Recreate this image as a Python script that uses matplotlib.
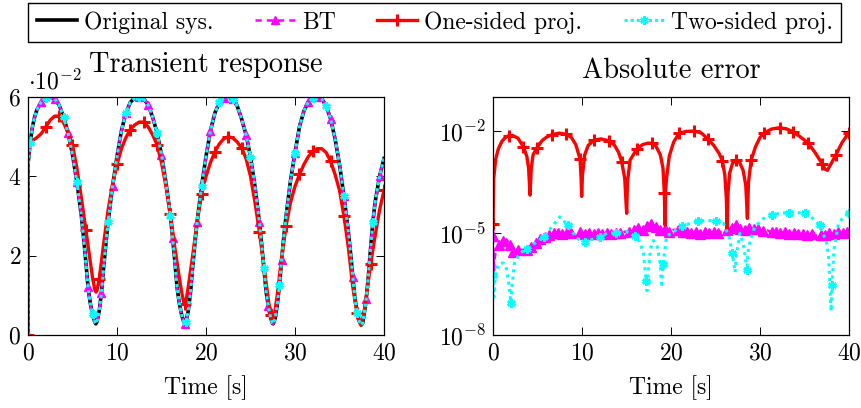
import numpy as np
import matplotlib
matplotlib.use("Agg")
import matplotlib.pyplot as plt
from matplotlib.ticker import NullLocator

plt.rcParams.update({
    "font.family": "serif",
    "font.serif": ["cmr10"],
    "mathtext.fontset": "cm",
    "axes.unicode_minus": False,
    "axes.formatter.use_mathtext": True,
    "font.size": 17,
})

# ---- transient response (values in units of 1e-2) ----
orig_resp = [
    (0.0, 0.0), (0.0, 4.3), (0.25, 4.85), (0.5, 5.25), (0.75, 5.5), (1.0, 5.68),
    (1.5, 5.88), (2.0, 5.97), (2.5, 6.0), (3.0, 5.96), (3.5, 5.8), (4.0, 5.5),
    (4.5, 5.1), (5.0, 4.55), (5.5, 3.85), (6.0, 3.0), (6.25, 2.45), (6.5, 1.85),
    (6.75, 1.2), (7.0, 0.8), (7.25, 0.52), (7.5, 0.33), (7.62, 0.28), (7.75, 0.33),
    (8.0, 0.6), (8.25, 1.05), (8.5, 1.7), (8.75, 2.3), (9.0, 2.85), (9.5, 3.75),
    (10.0, 4.5), (10.5, 5.15), (11.0, 5.6), (11.5, 5.87), (12.0, 5.98), (12.5, 6.0),
    (13.0, 5.96), (13.5, 5.8), (14.0, 5.5), (14.5, 5.1), (15.0, 4.55), (15.5, 3.85),
    (16.0, 3.0), (16.25, 2.45), (16.5, 1.85), (16.75, 1.2), (17.0, 0.8), (17.25, 0.52),
    (17.5, 0.33), (17.62, 0.28), (17.75, 0.33), (18.0, 0.6), (18.25, 1.05), (18.5, 1.7),
    (18.75, 2.3), (19.0, 2.85), (19.5, 3.75), (20.0, 4.5), (20.5, 5.15), (21.0, 5.6),
    (21.5, 5.87), (22.0, 5.98), (22.5, 6.0),
    (23.0, 5.95), (23.5, 5.78), (24.0, 5.45), (24.5, 5.05), (25.0, 4.5), (25.5, 3.75),
    (26.0, 2.85), (26.25, 2.3), (26.5, 1.7), (26.75, 1.1), (27.0, 0.72), (27.25, 0.45),
    (27.45, 0.3), (27.55, 0.28), (27.75, 0.4), (28.0, 0.75), (28.25, 1.25), (28.5, 1.9),
    (28.75, 2.5), (29.0, 3.0), (29.5, 3.9), (30.0, 4.6), (30.5, 5.25), (31.0, 5.65),
    (31.5, 5.88), (32.0, 5.98), (32.5, 6.0),
    (33.0, 5.96), (33.5, 5.78), (34.0, 5.45), (34.5, 4.95), (35.0, 4.3), (35.5, 3.5),
    (36.0, 2.6), (36.25, 2.05), (36.5, 1.45), (36.75, 0.9), (37.0, 0.55), (37.25, 0.33),
    (37.45, 0.25), (37.6, 0.3), (37.75, 0.5), (38.0, 0.9), (38.25, 1.5), (38.5, 2.2),
    (38.75, 2.85), (39.0, 3.35), (39.5, 4.0), (40.0, 4.45),
]
# BT and two-sided responses lie on top of the original at this resolution
bt_resp = orig_resp
two_resp = orig_resp
one_resp = [
    (0.0, 0.0), (0.0, 4.5), (0.25, 4.85), (0.5, 4.9), (1.0, 4.98), (1.5, 5.08),
    (2.0, 5.25), (2.5, 5.42), (3.0, 5.52), (3.5, 5.52), (4.0, 5.35), (4.5, 5.1),
    (5.0, 4.8), (5.5, 4.2), (6.0, 3.45), (6.5, 2.65), (7.0, 1.85), (7.25, 1.45),
    (7.5, 1.15), (7.65, 1.08), (7.75, 1.12), (8.0, 1.4), (8.5, 2.3), (9.0, 3.15),
    (9.5, 3.8), (10.0, 4.3), (10.5, 4.7), (11.0, 4.98), (11.5, 5.18), (12.0, 5.3),
    (12.5, 5.37), (13.0, 5.37), (13.5, 5.25), (14.0, 5.05), (14.5, 4.8), (15.0, 4.35),
    (15.5, 3.75), (16.0, 3.05), (16.5, 2.2), (17.0, 1.45), (17.25, 1.1), (17.5, 0.82),
    (17.6, 0.77), (17.75, 0.85), (18.0, 1.2), (18.5, 2.0), (19.0, 2.85), (19.5, 3.55),
    (20.0, 4.0), (20.5, 4.35), (21.0, 4.62), (21.5, 4.82), (22.0, 4.95), (22.5, 5.0),
    (23.0, 4.97), (23.5, 4.87), (24.0, 4.72), (24.5, 4.45), (25.0, 4.0), (25.5, 3.35),
    (26.0, 2.6), (26.5, 1.75), (27.0, 0.9), (27.25, 0.5), (27.4, 0.37), (27.5, 0.38),
    (27.75, 0.6), (28.0, 1.0), (28.5, 1.95), (29.0, 2.75), (29.5, 3.35), (30.0, 3.75),
    (30.5, 4.05), (31.0, 4.3), (31.5, 4.5), (32.0, 4.63), (32.5, 4.7), (33.0, 4.7),
    (33.5, 4.6), (34.0, 4.38), (34.5, 4.05), (35.0, 3.65), (35.5, 3.0), (36.0, 2.2),
    (36.5, 1.2), (36.75, 0.85), (37.0, 0.55), (37.25, 0.32), (37.4, 0.25), (37.5, 0.26),
    (37.75, 0.55), (38.0, 0.95), (38.5, 1.8), (39.0, 2.5), (39.5, 3.15), (40.0, 3.65),
]

# ---- absolute errors ----
bt_err = [
    (0.0, 8e-6), (0.05, 2e-6), (0.12, 8e-7), (0.2, 2e-6), (0.35, 3.2e-6), (0.7, 4.5e-6),
    (1.1, 6e-6), (1.5, 6.5e-6), (1.9, 4.5e-6), (2.3, 2.8e-6), (2.8, 3.2e-6), (3.3, 3.2e-6),
    (3.8, 3.2e-6), (4.3, 3.8e-6), (4.8, 5e-6), (5.3, 6.5e-6), (5.8, 7.8e-6), (6.3, 8.5e-6),
    (6.8, 9.8e-6), (7.3, 1e-5), (7.8, 9.5e-6), (8.3, 1.1e-5), (8.8, 1e-5), (9.3, 9e-6),
    (9.8, 1.05e-5), (10.3, 9.5e-6), (10.8, 1e-5), (11.3, 9.2e-6), (11.8, 9.8e-6),
    (12.3, 9.5e-6), (12.8, 1e-5), (13.3, 9.2e-6), (13.8, 1e-5), (14.3, 1e-5),
    (14.8, 1.1e-5), (15.3, 1.05e-5), (15.8, 1.25e-5), (16.3, 1.4e-5), (16.8, 1.25e-5),
    (17.3, 1.6e-5), (17.8, 1.9e-5), (18.3, 1.5e-5), (18.8, 1.2e-5), (19.3, 1.35e-5),
    (19.8, 1.1e-5), (20.3, 1.25e-5), (20.8, 1.2e-5), (21.3, 1.05e-5), (21.8, 1.1e-5),
    (22.3, 1e-5), (22.8, 1.05e-5), (23.3, 9.5e-6), (23.8, 1.05e-5), (24.3, 1e-5),
    (24.8, 1.1e-5), (25.3, 1e-5), (25.8, 1.15e-5), (26.3, 1.2e-5), (26.8, 1.4e-5),
    (27.3, 1.7e-5), (27.8, 1.3e-5), (28.3, 1.2e-5), (28.8, 1.4e-5), (29.3, 1.3e-5),
    (29.8, 1.35e-5), (30.3, 1.15e-5), (30.8, 1.2e-5), (31.3, 1.05e-5), (31.8, 1.1e-5),
    (32.3, 1e-5), (32.8, 1.05e-5), (33.3, 9.5e-6), (33.8, 1e-5), (34.3, 9.5e-6),
    (34.8, 9.5e-6), (35.3, 8.8e-6), (35.8, 9.2e-6), (36.3, 8.5e-6), (36.8, 9e-6),
    (37.3, 8.5e-6), (37.8, 1e-5), (38.3, 9.5e-6), (38.8, 1.05e-5), (39.3, 1e-5),
    (39.8, 1.1e-5), (40.0, 1.05e-5),
]
one_err = [
    (0.0, 1.8e-5), (0.08, 4e-4), (0.3, 1.5e-3), (0.6, 3e-3), (1.0, 5e-3), (1.4, 6.5e-3),
    (1.8, 7.4e-3), (2.2, 7.4e-3), (2.8, 6.2e-3), (3.4, 3.5e-3), (3.8, 1.8e-3), (4.0, 8e-4),
    (4.16, 1.3e-4), (4.3, 8e-4), (4.5, 2e-3), (4.9, 3.1e-3), (5.5, 5.2e-3), (6.0, 6.6e-3),
    (6.6, 7.8e-3), (7.4, 8.7e-3), (8.2, 8.1e-3), (8.8, 6.5e-3), (9.3, 4e-3), (9.78, 1.5e-3),
    (9.9, 4e-4), (9.96, 1.2e-4), (10.05, 5e-4), (10.3, 2e-3), (10.7, 3.8e-3), (11.3, 5.3e-3),
    (12.1, 5.9e-3), (13.0, 5.2e-3), (13.6, 4e-3), (14.1, 2.4e-3), (14.46, 1.26e-3),
    (14.8, 4e-4), (14.97, 6e-5), (15.02, 3.8e-5), (15.1, 3e-4), (15.4, 1.4e-3),
    (16.14, 2.9e-3), (16.8, 4.0e-3), (17.4, 4.4e-3), (17.83, 4.4e-3), (18.3, 3.6e-3),
    (18.8, 2e-3), (19.1, 8e-4), (19.25, 1.5e-4), (19.33, 1.7e-5), (19.4, 2e-4),
    (19.5, 4.1e-4), (19.8, 1.8e-3), (20.3, 4.8e-3), (20.9, 8.5e-3), (21.7, 9.8e-3),
    (22.6, 1.0e-2), (23.4, 8.8e-3), (24.1, 6e-3), (24.8, 3.8e-3), (25.4, 2.2e-3),
    (25.77, 1.35e-3), (26.05, 5e-4), (26.22, 1e-4), (26.3, 1.3e-5), (26.4, 1.5e-4),
    (26.6, 6e-4), (26.9, 1.1e-3), (27.27, 1.4e-3), (27.7, 1.2e-3), (28.1, 7e-4),
    (28.4, 2.5e-4), (28.58, 2.7e-5), (28.7, 3e-4), (29.0, 1.4e-3), (29.5, 3.5e-3),
    (30.0, 6.5e-3), (30.5, 8.9e-3), (31.3, 1.15e-2), (32.2, 1.26e-2), (33.0, 1.15e-2),
    (33.74, 9.5e-3), (34.5, 6.8e-3), (35.36, 4.6e-3), (36.2, 2.3e-3), (37.0, 1.07e-3),
    (37.3, 7.6e-4), (37.57, 7e-4), (37.9, 1.0e-3), (38.5, 1.95e-3), (39.2, 4.5e-3),
    (39.92, 8.5e-3), (40.0, 9e-3),
]
two_err = [
    (0.0, 6e-7), (0.1, 1.3e-7), (0.25, 6e-7), (0.5, 1e-6), (0.8, 1.3e-6), (1.2, 1.3e-6),
    (1.5, 9e-7), (1.8, 3e-7), (2.0, 9e-8), (2.15, 3e-7), (2.4, 1.3e-6), (3.0, 2.5e-6),
    (3.8, 3.5e-6), (4.7, 5e-6), (5.7, 7.8e-6), (6.6, 1.5e-5), (7.5, 3e-5), (8.4, 1.7e-5),
    (9.4, 7e-6), (10.3, 5.5e-6), (11.0, 6.3e-6), (12.0, 7.8e-6), (12.9, 1e-5),
    (13.8, 1e-5), (15.0, 1.1e-5), (15.96, 8e-6), (16.5, 5.5e-6), (16.9, 2.5e-6),
    (17.2, 4e-7), (17.3, 2e-7), (17.45, 8e-7), (17.7, 3.5e-6), (18.0, 6e-6),
    (18.4, 4.5e-6), (18.75, 1.5e-6), (18.95, 2.5e-7), (19.1, 1.2e-6), (19.5, 8e-6),
    (20.3, 1.1e-5), (21.2, 1.6e-5), (22.1, 1.9e-5), (23.0, 2.2e-5), (24.0, 2.4e-5),
    (25.0, 2.2e-5), (25.9, 1.9e-5), (26.5, 8e-6), (26.9, 2.5e-6), (27.2, 7e-7),
    (27.35, 2.5e-6), (27.75, 9.8e-6), (28.1, 5e-6), (28.35, 2e-6), (28.5, 8e-7),
    (28.7, 4e-6), (29.4, 1.5e-5), (30.3, 2.6e-5), (31.3, 3.4e-5), (32.2, 3.8e-5),
    (33.2, 4e-5), (34.1, 4e-5), (35.1, 3.8e-5), (36.0, 2.6e-5), (36.7, 1.7e-5),
    (37.2, 8e-6), (37.5, 5e-6), (37.7, 2e-6), (37.85, 3e-7), (37.98, 5e-8),
    (38.1, 3e-7), (38.3, 3e-6), (38.8, 1.9e-5), (39.4, 3e-5), (40.0, 4e-5),
]

labels = ["Original sys.", "BT", "One-sided proj.", "Two-sided proj."]


def marks(t, step, start=0.0):
    """indices of samples nearest to a regular time grid"""
    idx = np.searchsorted(t, np.arange(start, 40.01, step))
    return sorted(set(np.clip(idx, 0, len(t) - 1).tolist()))


def style_axis(ax):
    ax.tick_params(direction="in", top=True, right=True, length=6, width=0.7, pad=5)
    for s in ax.spines.values():
        s.set_linewidth(0.9)
    ax.set_xlim(0, 40)
    ax.set_xticks([0, 10, 20, 30, 40])
    ax.set_xlabel("Time [s]", labelpad=8)


fig = plt.figure(figsize=(8.61, 4.08), dpi=100)
ax1 = fig.add_axes([0.0325, 0.179, 0.4135, 0.583])
ax2 = fig.add_axes([0.5726, 0.179, 0.4135, 0.583])

# left: transient response
t0, y0 = np.array(orig_resp).T
tb, yb = np.array(bt_resp).T
t1, y1 = np.array(one_resp).T
t2, y2 = np.array(two_resp).T
ax1.plot(t0, y0, color="black", lw=2.6, label=labels[0])
ax1.plot(tb, yb, color="magenta", lw=1.8, dashes=(2.5, 2), marker="^", ms=6,
         markevery=marks(tb, 1.35), label=labels[1])
ax1.plot(t1, y1, color="red", lw=2.4, marker="+", ms=8.5, mew=2.2,
         markevery=marks(t1, 1.6), label=labels[2])
ax1.plot(t2, y2, color="cyan", lw=2.2, linestyle=(0, (1, 1)), marker=(6, 2, 0),
         ms=6, mew=1.8, markevery=marks(t2, 1.75, 0.2), label=labels[3])
style_axis(ax1)
ax1.set_ylim(0, 6)
ax1.set_yticks([0, 2, 4, 6])
ax1.set_title("Transient response", pad=18)
ax1.text(0.0, 1.01, r"$\cdot 10^{-2}$", transform=ax1.transAxes,
         ha="left", va="bottom")

# right: absolute error
te_b, eb = np.array(bt_err).T
te_1, e1 = np.array(one_err).T
te_2, e2 = np.array(two_err).T
ax2.plot(te_b, eb, color="magenta", lw=1.8, dashes=(2.5, 2), marker="^", ms=6.5,
         markevery=marks(te_b, 0.55))
ax2.plot(te_1, e1, color="red", lw=2.4, marker="+", ms=8.5, mew=2.2,
         markevery=marks(te_1, 1.6))
ax2.plot(te_2, e2, color="cyan", lw=2.2, linestyle=(0, (1, 1.4)), marker=(6, 2, 0),
         ms=6, mew=1.8, markevery=marks(te_2, 1.9))
style_axis(ax2)
ax2.set_yscale("log")
ax2.set_ylim(1e-8, 1e-1)
ax2.set_yticks([1e-8, 1e-5, 1e-2])
ax2.yaxis.set_minor_locator(NullLocator())
ax2.set_title("Absolute error", pad=14)

handles, labs = ax1.get_legend_handles_labels()
fig.legend(handles, labs, loc="upper center", bbox_to_anchor=(0.505, 0.993),
           ncol=4, fancybox=False, edgecolor="black", framealpha=1,
           handlelength=1.7, handletextpad=0.3, columnspacing=1.75,
           borderpad=0.35, borderaxespad=0.0)

fig.savefig("out.png", dpi=100)
